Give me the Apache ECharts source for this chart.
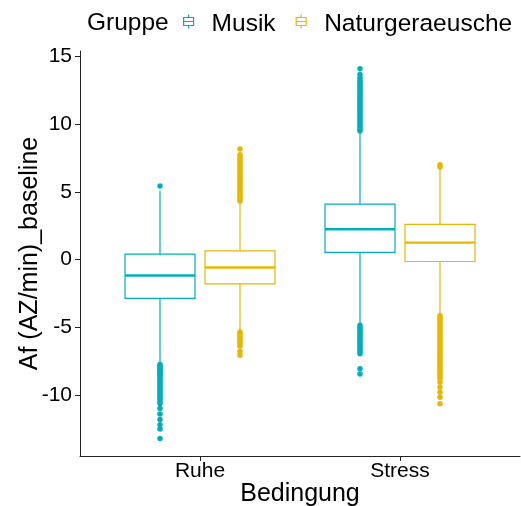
<!DOCTYPE html>
<html>
<head>
<meta charset="utf-8">
<script src="https://cdn.jsdelivr.net/npm/echarts@6/dist/echarts.min.js"></script>
<style>html,body{margin:0;padding:0;background:#fff}#c{width:521px;height:506px}</style>
</head>
<body>
<div id="c"></div>
<script>
// Categories and groups
const categories = ['Ruhe', 'Stress'];
const groups = ['Musik', 'Naturgeraeusche'];
const colors = ['#00AFBB', '#E7B800'];
const yTicks = [-10, -5, 0, 5, 10, 15];

// Box statistics per category: [lowerWhisker, Q1, median, Q3, upperWhisker]
const musikBoxes = [
  [-7.6, -2.87, -1.17, 0.41, 5.1],
  [-4.73, 0.53, 2.24, 4.09, 9.4]
];
const naturBoxes = [
  [-5.25, -1.79, -0.58, 0.65, 4.2],
  [-4.0, -0.14, 1.25, 2.6, 6.7]
];

// Outliers
const musikRuheOutliers = [5.44,
  -7.75, -7.85, -7.95, -8.05, -8.15, -8.25, -8.35, -8.45, -8.55, -8.7, -8.85, -9.0,
  -9.15, -9.3, -9.45, -9.6, -9.75, -9.9, -10.05, -10.2, -10.35, -10.5, -10.65,
  -11.0, -11.4, -11.8, -12.2, -12.5, -13.2];
const musikStressOutliers = [9.5, 9.65, 9.8, 9.95, 10.1, 10.25, 10.4, 10.55, 10.7, 10.85,
  11.0, 11.15, 11.3, 11.45, 11.6, 11.75, 11.9, 12.05, 12.2, 12.35, 12.5, 12.65, 12.8,
  12.95, 13.1, 13.25, 13.45, 13.67, 14.09,
  -4.85, -5.0, -5.15, -5.3, -5.45, -5.6, -5.75, -5.9, -6.05, -6.2, -6.35, -6.5, -6.65,
  -6.8, -6.95, -8.06, -8.45];
const naturRuheOutliers = [4.3, 4.45, 4.6, 4.75, 4.9, 5.05, 5.2, 5.35, 5.5, 5.65, 5.8,
  5.95, 6.1, 6.25, 6.4, 6.55, 6.7, 6.85, 7.0, 7.15, 7.3, 7.45, 7.6, 7.74, 8.16,
  -5.35, -5.5, -5.65, -5.8, -5.95, -6.1, -6.25, -6.4, -6.78, -7.07];
const naturStressOutliers = [6.83, 7.0,
  -4.15, -4.3, -4.45, -4.6, -4.75, -4.9, -5.05, -5.2, -5.35, -5.5, -5.65, -5.8, -5.95,
  -6.1, -6.25, -6.4, -6.55, -6.7, -6.85, -7.0, -7.15, -7.3, -7.45, -7.6, -7.75, -7.9,
  -8.05, -8.2, -8.35, -8.5, -8.65, -8.8, -9.05, -9.42, -9.79, -10.16, -10.65];

const FONT = 'Liberation Sans, Arial, sans-serif';
const dodge = 0.2;      // half dodge distance in category units
const halfBox = 0.175;  // half box width in category units

function boxData(boxes) {
  return boxes.map((b, i) => [i + 1].concat(b));
}
function outlierData(lists, offset) {
  const out = [];
  lists.forEach((list, i) => list.forEach(v => out.push([i + 1 + offset, v])));
  return out;
}
function makeRender(offset, color) {
  return function (params, api) {
    const x = api.value(0) + offset;
    const lo = api.value(1), q1 = api.value(2), med = api.value(3), q3 = api.value(4), hi = api.value(5);
    const cx = api.coord([x, med])[0];
    const xl = api.coord([x - halfBox, med])[0];
    const xr = api.coord([x + halfBox, med])[0];
    const yLo = api.coord([x, lo])[1], yQ1 = api.coord([x, q1])[1], yMed = api.coord([x, med])[1];
    const yQ3 = api.coord([x, q3])[1], yHi = api.coord([x, hi])[1];
    const ls = { stroke: color, lineWidth: 1.2 };
    return {
      type: 'group',
      children: [
        { type: 'line', shape: { x1: cx, y1: yQ3, x2: cx, y2: yHi }, style: ls },
        { type: 'line', shape: { x1: cx, y1: yQ1, x2: cx, y2: yLo }, style: ls },
        { type: 'rect', shape: { x: xl, y: yQ3, width: xr - xl, height: yQ1 - yQ3 },
          style: { fill: '#fff', stroke: color, lineWidth: 1.2 } },
        { type: 'line', shape: { x1: xl, y1: yMed, x2: xr, y2: yMed },
          style: { stroke: color, lineWidth: 2.4 } }
      ]
    };
  };
}

// legend key glyph (box + median + whisker stubs), with empty space below to lift it
const iconPath = 'path://M6,0L6,3M1,3L11,3L11,11L1,11ZM1,7L11,7M6,11L6,14M6,20L6,20';

const chart = echarts.init(document.getElementById('c'), null, { renderer: 'canvas' });
chart.setOption({
  animation: false,
  backgroundColor: '#fff',
  textStyle: { fontFamily: FONT },
  graphic: [{
    type: 'text', left: 87, top: 11,
    style: { text: 'Gruppe', fontSize: 24.5, fontFamily: FONT, fill: '#000' }
  }],
  legend: {
    left: 183, top: 12, padding: 0,
    itemWidth: 12, itemHeight: 20, itemGap: 20,
    textStyle: { fontSize: 24.5, fontFamily: FONT, color: '#000', padding: [0, 0, 0, 12] },
    data: groups.map((g, i) => ({
      name: g, icon: iconPath,
      itemStyle: { color: '#fff', borderColor: colors[i], borderWidth: 1.2 }
    }))
  },
  grid: { left: 80, top: 51, width: 440, height: 405, containLabel: false, outerBoundsMode: 'none' },
  xAxis: {
    type: 'value', min: 0.4, max: 2.6,
    name: 'Bedingung', nameLocation: 'middle', nameGap: 26, nameMoveOverlap: false,
    nameTextStyle: { fontSize: 25, color: '#000', fontFamily: FONT },
    axisLine: { show: true, onZero: false, lineStyle: { color: '#222', width: 1 } },
    axisTick: { show: true, customValues: [1, 2], length: 5, lineStyle: { color: '#222' } },
    axisLabel: { customValues: [1, 2], fontSize: 21, color: '#000', margin: 5,
      formatter: v => categories[Math.round(v) - 1] || '' },
    splitLine: { show: false }
  },
  yAxis: {
    type: 'value', min: -14.5, max: 15.4,
    name: 'Af (AZ/min)_baseline', nameLocation: 'middle', nameGap: 37, nameMoveOverlap: false,
    nameTextStyle: { fontSize: 25, color: '#000', fontFamily: FONT },
    axisLine: { show: true, onZero: false, lineStyle: { color: '#222', width: 1 } },
    axisTick: { show: true, customValues: yTicks, length: 5, lineStyle: { color: '#222' } },
    axisLabel: { customValues: yTicks, fontSize: 21, color: '#000', margin: 8 },
    splitLine: { show: false }
  },
  series: [
    {
      name: groups[0], type: 'custom', renderItem: makeRender(-dodge, colors[0]),
      data: boxData(musikBoxes), encode: { x: 0, y: [1, 2, 3, 4, 5] },
      itemStyle: { color: colors[0] }, z: 2
    },
    {
      name: groups[1], type: 'custom', renderItem: makeRender(dodge, colors[1]),
      data: boxData(naturBoxes), encode: { x: 0, y: [1, 2, 3, 4, 5] },
      itemStyle: { color: colors[1] }, z: 2
    },
    {
      name: groups[0], type: 'scatter', symbolSize: 5.5,
      data: outlierData([musikRuheOutliers, musikStressOutliers], -dodge),
      itemStyle: { color: colors[0], opacity: 1 }, z: 3
    },
    {
      name: groups[1], type: 'scatter', symbolSize: 5.5,
      data: outlierData([naturRuheOutliers, naturStressOutliers], dodge),
      itemStyle: { color: colors[1], opacity: 1 }, z: 3
    }
  ]
});
</script>
</body>
</html>
